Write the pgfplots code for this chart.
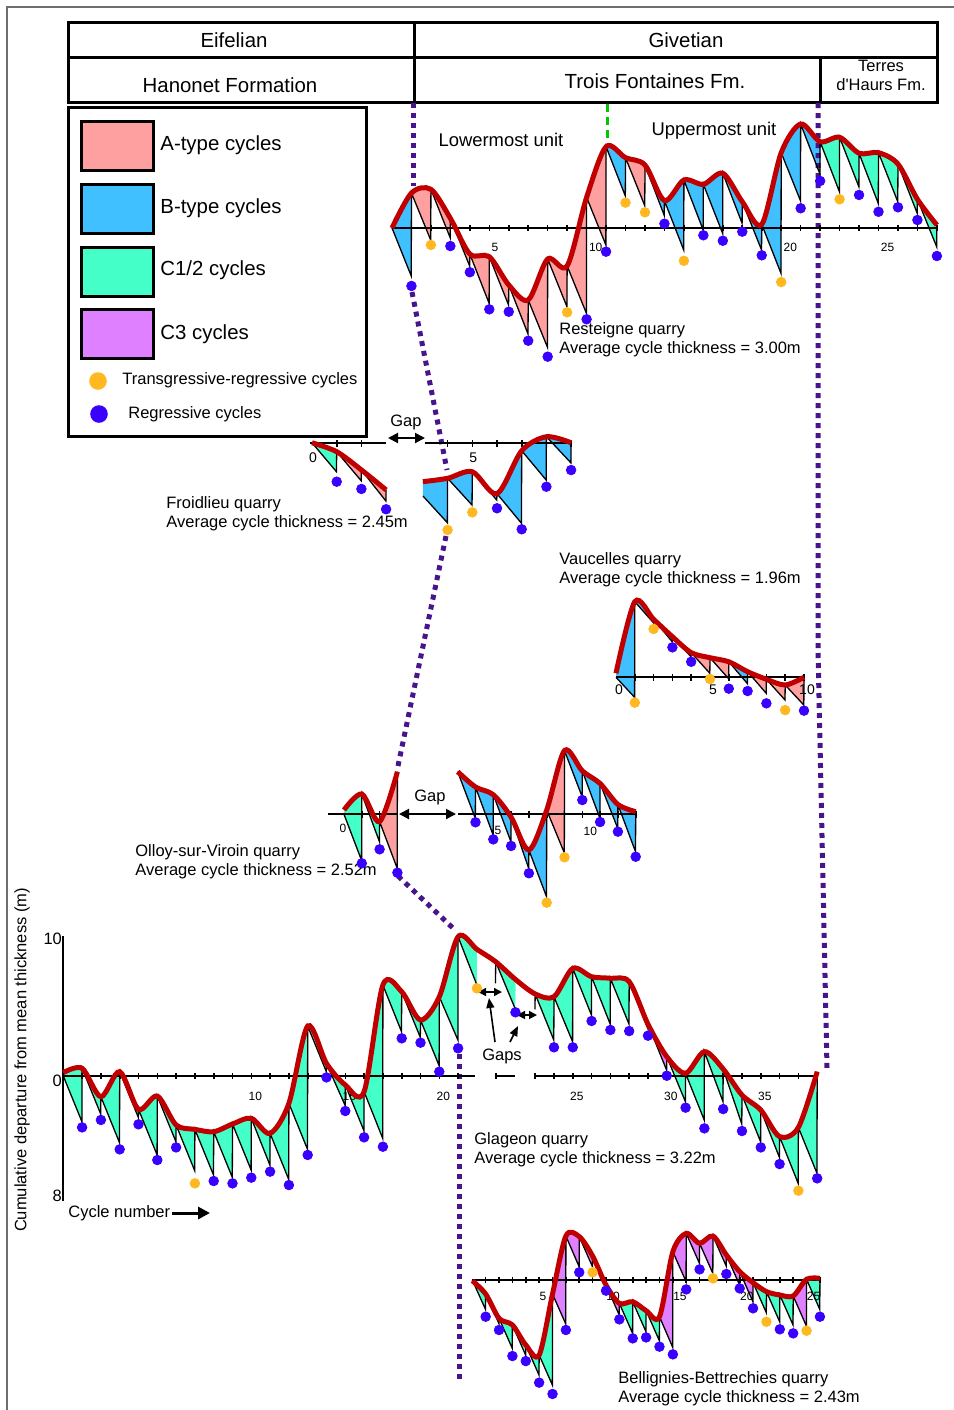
\documentclass[border=0pt]{standalone}
\usepackage{pgfplots}
\pgfplotsset{compat=1.18}
\usepgfplotslibrary{fillbetween}
\usetikzlibrary{arrows.meta}
\usepackage{fontspec}
\setmainfont{Liberation Sans}
\newfontfamily\plainf{Liberation Sans}

\definecolor{Acol}{RGB}{255,160,160}
\definecolor{Bcol}{RGB}{64,192,255}
\definecolor{Ccol}{RGB}{69,255,200}
\definecolor{Dcol}{RGB}{222,128,255}
\definecolor{rc}{RGB}{192,0,0}
\definecolor{tr}{RGB}{255,184,32}
\definecolor{rg}{RGB}{58,0,255}
\definecolor{corr}{RGB}{72,20,140}
\definecolor{dgreen}{RGB}{0,200,0}
\definecolor{framec}{RGB}{110,110,110}

\pgfplotsset{
  fpax/.style={hide axis, clip=false, anchor=origin, y=7pt, set layers},
  saw/.style={black, line width=0.65pt, no markers},
  rcurve/.style={color=rc, line width=2.5pt, smooth, no markers},
  dotB/.style={only marks, mark=*, mark size=2.4pt, mark options={fill=rg, draw=rg}},
  dotO/.style={only marks, mark=*, mark size=2.4pt, mark options={fill=tr, draw=tr}},
  fb/.style={draw=none, on layer=axis background, fill=#1},
}
\tikzset{
  axl/.style={black, line width=1pt},
  tkl/.style={black, line width=0.8pt},
  tl/.style={font=\fontsize{6}{6}\selectfont, inner sep=0pt},
  tl7/.style={font=\fontsize{7}{7}\selectfont, inner sep=0pt},
  corrline/.style={line width=2.5pt, draw=corr, dash pattern=on 2.5pt off 2.5pt},
  txt/.style={font=\fontsize{8.25}{9}\selectfont, inner sep=0pt},
  lbl/.style={font=\fontsize{9.2}{10}\selectfont, inner sep=0pt},
  hd/.style={font=\fontsize{10.2}{11}\selectfont, inner sep=0pt},
  dar/.style={line width=1pt, {Triangle[length=5pt,width=5pt]}-{Triangle[length=5pt,width=5pt]}},
  sar/.style={line width=0.8pt, {Triangle[length=4pt,width=4pt]}-{Triangle[length=4pt,width=4pt]}},
}

\begin{document}
\begin{tikzpicture}
\begin{scope}[x=0.5pt,y=-0.5pt]
% frame
\draw[framec, line width=0.6pt] (7,1410) -- (7,7) -- (954,7);
% header table
\draw[line width=1.5pt] (68,22) rectangle (937,102);
\draw[line width=1.5pt] (68,57) -- (937,57);
\draw[line width=1.5pt] (414,22) -- (414,102);
\draw[line width=1.5pt] (820,57) -- (820,102);
\node[hd] at (234,40) {Eifelian};
\node[hd] at (686,40) {Givetian};
\node[hd] at (230,85) {Hanonet Formation};
\node[hd] at (655,81) {Trois Fontaines Fm.};
\node[txt] at (881,66) {Terres};
\node[txt] at (881,85) {\plainf d'Haurs Fm.};
% legend
\draw[line width=1.5pt] (68,107) rectangle (366,436);
\draw[line width=1.5pt, fill=Acol] (81,121) rectangle (153,170);
\draw[line width=1.5pt, fill=Bcol] (81,184) rectangle (153,233);
\draw[line width=1.5pt, fill=Ccol] (81,247) rectangle (153,296);
\draw[line width=1.5pt, fill=Dcol] (81,309) rectangle (153,358);
\node[hd, anchor=west] at (160,145) {A-type cycles};
\node[hd, anchor=west] at (160,208) {B-type cycles};
\node[hd, anchor=west] at (160,270) {C1/2 cycles};
\node[hd, anchor=west] at (160,334) {C3 cycles};
\fill[tr] (98,381) circle (4.4pt);
\fill[rg] (99,414) circle (4.4pt);
\node[txt, anchor=west] at (122,380) {Transgressive-regressive cycles};
\node[txt, anchor=west] at (128,414) {Regressive cycles};
% correlation lines
\draw[corrline] (413,103) -- (413,186);
\draw[corrline] (412,292) -- (447,470);
\draw[corrline] (446,536) -- (398,766);
\draw[corrline] (398,876) -- (455,930);
\draw[corrline] (459,1054) -- (459,1382);
\draw[corrline] (818,103) -- (818,650) -- (827,1068);
\draw[dgreen, line width=1.5pt, dash pattern=on 4pt off 2.5pt] (607,104) -- (607,142);
% texts
\node[lbl] at (501,140) {Lowermost unit};
\node[lbl] at (714,131) {Uppermost unit};
\node[txt, anchor=west] at (559,330) {Resteigne quarry};
\node[txt, anchor=west] at (559,349) {Average cycle thickness = 3.00m};
\node[txt, anchor=west] at (166,504) {Froidlieu quarry};
\node[txt, anchor=west] at (166,523) {Average cycle thickness = 2.45m};
\node[txt, anchor=west] at (559,560) {Vaucelles quarry};
\node[txt, anchor=west] at (559,579) {Average cycle thickness = 1.96m};
\node[txt, anchor=west] at (135,852) {Olloy-sur-Viroin quarry};
\node[txt, anchor=west] at (135,871) {Average cycle thickness = 2.52m};
\node[txt, anchor=west] at (474,1140) {Glageon quarry};
\node[txt, anchor=west] at (474,1159) {Average cycle thickness = 3.22m};
\node[txt, anchor=west] at (618,1379) {Bellignies-Bettrechies quarry};
\node[txt, anchor=west] at (618,1398) {Average cycle thickness = 2.43m};
\node[txt] at (406,422) {Gap};
\draw[dar] (388,438) -- (425,438);
\node[txt] at (430,797) {Gap};
\draw[dar] (399,814) -- (456,814);
\draw[sar] (478,992) -- (502,992);
\draw[sar] (517,1015) -- (537,1015);
\draw[line width=0.8pt, -{Triangle[length=5pt,width=4pt]}] (495,1042) -- (489,998);
\draw[line width=0.8pt, -{Triangle[length=5pt,width=4pt]}] (510,1042) -- (518,1026);
\node[txt] at (502,1056) {Gaps};
\node[txt, anchor=west] at (68,1213) {Cycle number};
\draw[line width=1.5pt, -{Triangle[length=6pt,width=6pt]}] (172,1213) -- (210,1213);
\node[txt, rotate=90] at (22,1060) {Cumulative departure from mean thickness (m)};
\end{scope}

% ================= Resteigne
\begin{axis}[fpax, at={(0.5pt*392,-0.5pt*228)}, x=9.73pt, xmin=-0.5, xmax=28.5, ymin=-10, ymax=8]
\draw[axl] (axis cs:0,0) -- (axis cs:28,0);
\pgfplotsinvokeforeach{1,...,28}{\draw[tkl] (axis cs:#1,0) ++(0pt,1.7pt) -- ++(0pt,-3.4pt);}
\pgfplotsinvokeforeach{5,10,20,25}{\node[tl,anchor=north west,xshift=1pt,yshift=-7.5pt] at (axis cs:#1,0) {#1};}
\addplot[saw, name path=sR] coordinates {(0,0) (0.99,-3.43) (1,2.50) (1.99,-0.86) (2,2.76) (2.99,-0.69) (3,0.69) (3.99,-2.71) (4,-1.86) (4.99,-5.38) (5,-2.05) (5.99,-5.50) (6,-4.07) (6.99,-7.57) (7,-5.14) (7.99,-8.52) (8,-2.21) (8.99,-5.62) (9,-2.71) (9.99,-6.09) (10,2.19) (10.99,-1.21) (11,5.81) (11.99,2.29) (12,5.02) (12.99,1.59) (13,4.50) (13.99,0.90) (14,1.95) (14.99,-1.57) (15,3.43) (15.99,-0.14) (16,3.12) (16.99,-0.38) (17,3.91) (17.99,0.34) (18,1.88) (18.99,-1.57) (19,0.26) (19.99,-3.24) (20,5.38) (20.99,1.95) (21,7.43) (21.99,3.86) (22,6.16) (22.99,2.60) (23,6.48) (23.99,2.95) (24,5.34) (24.99,1.75) (25,5.38) (25.99,1.88) (26,4.57) (26.99,1.05) (27,2.05) (27.99,-1.34) (28,0.21)};
\addplot[rcurve, name path=cR] coordinates {(0,0) (1,2.50) (2,2.76) (3,0.69) (4,-1.86) (5,-2.05) (6,-4.07) (7,-5.14) (8,-2.21) (9,-2.71) (10,2.19) (11,5.81) (12,5.02) (13,4.50) (14,1.95) (15,3.43) (16,3.12) (17,3.91) (18,1.88) (19,0.26) (20,5.38) (21,7.43) (22,6.16) (23,6.48) (24,5.34) (25,5.38) (26,4.57) (27,2.05) (28,0.21)};
\addplot[fb=Bcol] fill between[of=cR and sR, soft clip={domain=-1:1}];
\addplot[fb=Acol] fill between[of=cR and sR, soft clip={domain=1:11}];
\addplot[fb=Bcol] fill between[of=cR and sR, soft clip={domain=11:12}];
\addplot[fb=Acol] fill between[of=cR and sR, soft clip={domain=12:13}];
\addplot[fb=Bcol] fill between[of=cR and sR, soft clip={domain=13:22}];
\addplot[fb=Ccol] fill between[of=cR and sR, soft clip={domain=22:29}];
\addplot[dotB] coordinates {(1,-4.14) (3,-1.29) (4,-3.16) (5,-5.81) (6,-5.98) (7,-8.05) (8,-9.19) (10,-6.52) (11,-1.69) (14,0.31) (16,-0.52) (17,-0.91) (18,-0.26) (19,-1.95) (21,1.41) (22,3.36) (24,2.36) (25,1.16) (26,1.48) (27,0.57) (28,-2.00)};
\addplot[dotO] coordinates {(2,-1.21) (9,-6.02) (12,1.81) (13,1.12) (15,-2.34) (20,-3.86) (23,2.05)};
\end{axis}

% ================= Froidlieu (left part)
\begin{axis}[fpax, at={(0.5pt*312,-0.5pt*443.3)}, x=12.35pt, xmin=-0.5, xmax=3.5, ymin=-5, ymax=1]
\draw[axl] (axis cs:-0.1,0) -- (axis cs:3,0);
\pgfplotsinvokeforeach{1,2}{\draw[tkl] (axis cs:#1,0) ++(0pt,1.7pt) -- ++(0pt,-3.4pt);}
\node[tl7,anchor=north,xshift=0.5pt,yshift=-4.5pt] at (axis cs:0,0) {0};
\addplot[saw, name path=sF1] coordinates {(0,0.04) (0.99,-2.03) (1,-0.60) (1.99,-2.67) (2,-1.90) (2.99,-4.12) (3,-3.33)};
\addplot[rcurve, name path=cF1] coordinates {(0,0.04) (1,-0.60) (2,-1.90) (3,-3.33)};
\addplot[fb=Ccol] fill between[of=cF1 and sF1, soft clip={domain=-1:1}];
\addplot[fb=Acol] fill between[of=cF1 and sF1, soft clip={domain=1:4}];
\addplot[dotB] coordinates {(1,-2.74) (2,-3.26) (3,-4.71)};
\end{axis}

% ================= Froidlieu (right part)
\begin{axis}[fpax, at={(0.5pt*348.8,-0.5pt*443.3)}, x=12.35pt, xmin=0, xmax=9.5, ymin=-7, ymax=1]
\draw[axl] (axis cs:3.07,0) -- (axis cs:9,0);
\pgfplotsinvokeforeach{4,...,9}{\draw[tkl] (axis cs:#1,0) ++(0pt,1.7pt) -- ++(0pt,-3.4pt);}
\node[tl7,anchor=north,xshift=0.5pt,yshift=-4.5pt] at (axis cs:5,0) {5};
\addplot[saw, name path=sF2] coordinates {(3,-3.76) (3.99,-5.67) (4,-2.50) (4.99,-4.41) (5,-2.03) (5.99,-4.05) (6,-3.60) (6.99,-5.71) (7,-0.53) (7.99,-2.62) (8,0.47) (8.99,-1.39) (9,0.04)};
\addplot[rcurve, name path=cF2] coordinates {(3,-2.74) (4,-2.50) (5,-2.03) (6,-3.60) (7,-0.53) (8,0.47) (9,0.04)};
\addplot[fb=Bcol] fill between[of=cF2 and sF2, soft clip={domain=2:10}];
\addplot[dotB] coordinates {(6,-4.64) (7,-6.14) (8,-3.10) (9,-1.91)};
\addplot[dotO] coordinates {(4,-6.19) (5,-4.93)};
\end{axis}

% ================= Vaucelles
\begin{axis}[fpax, at={(0.5pt*616,-0.5pt*677.3)}, x=9.4pt, xmin=-0.5, xmax=10.5, ymin=-3, ymax=6]
\draw[axl] (axis cs:0,0) -- (axis cs:10,0);
\pgfplotsinvokeforeach{1,...,10}{\draw[tkl] (axis cs:#1,0) ++(0pt,1.7pt) -- ++(0pt,-3.4pt);}
\pgfplotsinvokeforeach{0,5,10}{\node[tl7,anchor=north,xshift=1.5pt,yshift=-3.5pt] at (axis cs:#1,0) {#1};}
\addplot[saw, name path=sV] coordinates {(0,0) (0.99,-1.43) (1,5.40) (1.99,3.90) (2,4.14) (2.99,2.54) (3,2.90) (3.99,1.47) (4,1.76) (4.99,0.29) (5,1.40) (5.99,-0.10) (6,1.11) (6.99,-0.45) (7,0.40) (7.99,-1.14) (8,-0.14) (8.99,-1.62) (9,-0.55) (9.99,-1.98) (10,0)};
\addplot[rcurve, name path=cV] coordinates {(0,0.29) (1,5.40) (2,4.14) (3,2.90) (4,1.76) (5,1.40) (6,1.11) (7,0.40) (8,-0.14) (9,-0.55) (10,0)};
\addplot[fb=Bcol] fill between[of=cV and sV, soft clip={domain=-1:4}];
\addplot[fb=Acol] fill between[of=cV and sV, soft clip={domain=4:6}];
\addplot[fb=Bcol] fill between[of=cV and sV, soft clip={domain=6:7}];
\addplot[fb=Acol] fill between[of=cV and sV, soft clip={domain=7:11}];
\addplot[dotB] coordinates {(3,2.14) (4,1.11) (6,-0.81) (7,-0.98) (8,-1.86) (10,-2.38)};
\addplot[dotO] coordinates {(1,-1.81) (2,3.45) (5,-0.12) (9,-2.34)};
\end{axis}

% ================= Olloy (left part)
\begin{axis}[fpax, at={(0.5pt*344,-0.5pt*814.3)}, x=8.9pt, xmin=-1, xmax=3.5, ymin=-5, ymax=4]
\draw[axl] (axis cs:-0.88,0) -- (axis cs:3,0);
\pgfplotsinvokeforeach{1,2}{\draw[tkl] (axis cs:#1,0) ++(0pt,1.7pt) -- ++(0pt,-3.4pt);}
\node[tl,anchor=north,xshift=-0.5pt,yshift=-4.5pt] at (axis cs:0,0) {0};
\addplot[saw, name path=sO1] coordinates {(0,0) (0.99,-3.30) (1,1.45) (1.99,-1.95) (2,-0.52) (2.99,-3.86) (3,3.04)};
\addplot[rcurve, name path=cO1] coordinates {(0,0.31) (1,1.45) (2,-0.52) (3,3.04)};
\addplot[fb=Ccol] fill between[of=cO1 and sO1, soft clip={domain=-1:2}];
\addplot[fb=Acol] fill between[of=cO1 and sO1, soft clip={domain=2:4}];
\addplot[dotB] coordinates {(1,-3.50) (2,-2.50) (3,-4.17)};
\end{axis}

% ================= Olloy (right part)
\begin{axis}[fpax, at={(0.5pt*404.3,-0.5pt*814.3)}, x=8.9pt, xmin=0, xmax=13.5, ymin=-7, ymax=5]
\draw[axl] (axis cs:3,0) -- (axis cs:13,0);
\pgfplotsinvokeforeach{4,...,13}{\draw[tkl] (axis cs:#1,0) ++(0pt,1.7pt) -- ++(0pt,-3.4pt);}
\pgfplotsinvokeforeach{5,10}{\node[tl,anchor=north west,xshift=0.5pt,yshift=-6pt] at (axis cs:#1,0) {#1};}
\addplot[saw, name path=sO2] coordinates {(3,3.04) (3.99,-0.29) (4,1.95) (4.99,-1.48) (5,1.40) (5.99,-1.95) (6,-0.20) (6.99,-3.86) (7,-2.55) (7.99,-5.88) (8,0.30) (8.99,-2.75) (9,4.55) (9.99,1.26) (10,3.10) (10.99,-0.29) (11,2.20) (11.99,-1.00) (12,0.70) (12.99,-2.67) (13,0.19)};
\addplot[rcurve, name path=cO2] coordinates {(3,3.04) (4,1.95) (5,1.40) (6,-0.20) (7,-2.55) (8,0.30) (9,4.55) (10,3.10) (11,2.20) (12,0.70) (13,0.19)};
\addplot[fb=Bcol] fill between[of=cO2 and sO2, soft clip={domain=2:8}];
\addplot[fb=Acol] fill between[of=cO2 and sO2, soft clip={domain=8:9}];
\addplot[fb=Bcol] fill between[of=cO2 and sO2, soft clip={domain=9:14}];
\addplot[dotB] coordinates {(4,-0.57) (5,-1.79) (6,-2.26) (7,-4.21) (10,1.02) (11,-0.55) (12,-1.24) (13,-3.03)};
\addplot[dotO] coordinates {(8,-6.31) (9,-3.07)};
\end{axis}

% ================= Glageon
\begin{axis}[fpax, at={(0.5pt*63.3,-0.5pt*1076)}, x=9.4pt, xmin=-0.5, xmax=40.5, ymin=-9.5, ymax=10.5]
\draw[axl] (axis cs:0,10) -- (axis cs:0,-8.9);
\node[txt,anchor=east,xshift=-0.5pt] at (axis cs:0,9.8) {10};
\node[txt,anchor=east,xshift=-0.5pt] at (axis cs:0,-0.35) {0};
\node[txt,anchor=east,xshift=-0.5pt] at (axis cs:0,-8.57) {8};
\draw[axl] (axis cs:0,0) -- (axis cs:21.9,0);
\draw[axl] (axis cs:22.96,0) -- (axis cs:24.05,0);
\draw[axl] (axis cs:25.1,0) -- (axis cs:40.1,0);
\pgfplotsinvokeforeach{1,...,21,23,25.1,26.1,27.1,28.1,29.1,30.1,31.1,32.1,33.1,34.1,35.1,36.1,37.1,38.1,39.1,40.1}{\draw[tkl] (axis cs:#1,0) ++(0pt,1.7pt) -- ++(0pt,-3.4pt);}
\node[tl,anchor=north,xshift=2pt,yshift=-8pt] at (axis cs:10,0) {10};
\node[tl,anchor=north,xshift=2pt,yshift=-8pt] at (axis cs:15,0) {15};
\node[tl,anchor=north,xshift=2pt,yshift=-8pt] at (axis cs:20,0) {20};
\node[tl,anchor=north,xshift=2pt,yshift=-8pt] at (axis cs:27.1,0) {25};
\node[tl,anchor=north,xshift=2pt,yshift=-8pt] at (axis cs:32.1,0) {30};
\node[tl,anchor=north,xshift=2pt,yshift=-8pt] at (axis cs:37.1,0) {35};
\addplot[saw, name path=sGa] coordinates {(0,0) (0.99,-3.26) (1,0.55) (1.99,-2.71) (2,-1.48) (2.99,-4.76) (3,0.31) (3.99,-2.95) (4,-2.38) (4.99,-5.64) (5,-1.43) (5.99,-4.69) (6,-3.50) (6.99,-6.76) (7,-3.81) (7.99,-7.07) (8,-3.98) (8.99,-7.24) (9,-3.43) (9.99,-6.71) (10,-3.02) (10.99,-6.36) (11,-4.10) (11.99,-7.38) (12,-1.95) (12.99,-5.24) (13,3.57) (13.99,0.31) (14,0.90) (14.99,-2.10) (15,-0.64) (15.99,-3.90) (16,-1.12) (16.99,-4.45) (17,6.50) (17.99,3.17) (18,6.02) (18.99,2.76) (19,4.00) (19.99,0.74) (20,5.66) (20.99,2.57) (21,9.95) (22,6.50)};
\addplot[saw, name path=sGb] coordinates {(22.99,6.62) (23,8.16) (24.05,4.76)};
\addplot[saw, name path=sGc] coordinates {(25.09,4.76) (25.1,5.86) (26.09,2.57) (26.1,5.66) (27.09,2.45) (27.1,7.69) (28.09,4.36) (28.1,7.09) (29.09,3.71) (29.1,6.98) (30.09,3.71) (30.1,6.74) (31.09,3.40) (31.1,3.70) (32.09,0.43) (32.1,1.38) (33.09,-1.83) (33.1,0.19) (34.09,-3.14) (34.1,1.74) (35.09,-1.83) (35.1,0.50) (36.09,-3.43) (36.1,-1.36) (37.09,-4.69) (37.1,-2.43) (38.09,-5.81) (38.1,-4.33) (39.09,-7.67) (39.1,-3.67) (40.09,-6.95) (40.1,0.31)};
\addplot[rcurve, name path=cG] coordinates {(0,0.24) (1,0.55) (2,-1.48) (3,0.31) (4,-2.38) (5,-1.43) (6,-3.50) (7,-3.81) (8,-3.98) (9,-3.43) (10,-3.02) (11,-4.10) (12,-1.95) (13,3.57) (14,0.90) (15,-0.64) (16,-1.12) (17,6.50) (18,6.02) (19,4.00) (20,5.66) (21,9.95) (22,9.05) (23,8.16) (24.05,6.90) (25.1,5.86) (26.1,5.66) (27.1,7.69) (28.1,7.09) (29.1,6.98) (30.1,6.74) (31.1,3.70) (32.1,1.38) (33.1,0.19) (34.1,1.74) (35.1,0.50) (36.1,-1.36) (37.1,-2.43) (38.1,-4.33) (39.1,-3.67) (40.1,0.31)};
\addplot[fb=Ccol] fill between[of=cG and sGa, soft clip={domain=-1:22.005}];
\addplot[fb=Ccol] fill between[of=cG and sGb, soft clip={domain=23:24.055}];
\addplot[fb=Ccol] fill between[of=cG and sGc, soft clip={domain=25.1:31.1}];
\addplot[fb=Dcol] fill between[of=cG and sGc, soft clip={domain=31.1:32.1}];
\addplot[fb=Ccol] fill between[of=cG and sGc, soft clip={domain=32.1:41}];
\addplot[dotB] coordinates {(1,-3.67) (2,-3.14) (3,-5.24) (4,-3.45) (5,-6.00) (6,-5.10) (8,-7.50) (9,-7.67) (10,-7.26) (11,-6.83) (12,-7.79) (13,-5.64) (14,-0.10) (15,-2.50) (16,-4.38) (17,-5.05) (18,2.69) (19,2.38) (20,0.31) (21,1.98) (24.05,4.55) (26.1,2.05) (27.1,2.05) (28.1,3.93) (29.1,3.29) (30.1,3.21) (31.1,2.88) (32.1,0.02) (33.1,-2.26) (34.1,-3.74) (35.1,-2.36) (36.1,-3.93) (37.1,-5.10) (38.1,-6.29) (40.1,-7.31)};
\addplot[dotO] coordinates {(7,-7.67) (22,6.26) (39.1,-8.19)};
\end{axis}

% ================= Bellignies-Bettrechies
\begin{axis}[fpax, at={(0.5pt*472.3,-0.5pt*1280)}, x=6.685pt, xmin=-0.5, xmax=26.5, ymin=-9, ymax=4]
\draw[axl] (axis cs:0,0) -- (axis cs:26,0);
\pgfplotsinvokeforeach{1,...,26}{\draw[tkl] (axis cs:#1,0) ++(0pt,1.7pt) -- ++(0pt,-3.4pt);}
\pgfplotsinvokeforeach{5,10,15,20,25}{\node[tl,anchor=north west,xshift=0pt,yshift=-6pt] at (axis cs:#1,0) {#1};}
\addplot[saw, name path=sBe] coordinates {(0,0) (0.99,-2.10) (1,-1.00) (1.99,-3.10) (2,-2.74) (2.99,-4.88) (3,-3.21) (3.99,-5.36) (4,-4.64) (4.99,-6.79) (5,-5.36) (5.99,-7.50) (6,-1.00) (6.99,-3.14) (7,3.14) (7.99,0.95) (8,3.10) (8.99,0.95) (9,1.71) (9.99,-0.43) (10,-0.36) (10.99,-2.50) (11,-1.67) (11.99,-3.81) (12,-1.55) (12.99,-3.69) (13,-2.19) (13.99,-4.33) (14,-2.62) (14.99,-4.81) (15,2.02) (15.99,-0.12) (16,3.33) (16.99,1.19) (17,2.62) (17.99,0.48) (18,3.14) (18.99,1.00) (19,1.79) (19.99,-0.36) (20,0.60) (20.99,-1.55) (21,-0.19) (21.99,-2.33) (22,-0.83) (22.99,-2.98) (23,-1.07) (23.99,-3.21) (24,-1.14) (24.99,-3.29) (25,0.05) (25.99,-2.10) (26,0.12)};
\addplot[rcurve, name path=cBe] coordinates {(0,-0.05) (1,-1.00) (2,-2.74) (3,-3.21) (4,-4.64) (5,-5.36) (6,-1.00) (7,3.14) (8,3.10) (9,1.71) (10,-0.36) (11,-1.67) (12,-1.55) (13,-2.19) (14,-2.62) (15,2.02) (16,3.33) (17,2.62) (18,3.14) (19,1.79) (20,0.60) (21,-0.19) (22,-0.83) (23,-1.07) (24,-1.14) (25,0.05) (26,0.12)};
\addplot[fb=Ccol] fill between[of=cBe and sBe, soft clip={domain=-1:6}];
\addplot[fb=Dcol] fill between[of=cBe and sBe, soft clip={domain=6:11}];
\addplot[fb=Ccol] fill between[of=cBe and sBe, soft clip={domain=11:14}];
\addplot[fb=Dcol] fill between[of=cBe and sBe, soft clip={domain=14:21}];
\addplot[fb=Ccol] fill between[of=cBe and sBe, soft clip={domain=21:24}];
\addplot[fb=Dcol] fill between[of=cBe and sBe, soft clip={domain=24:25}];
\addplot[fb=Ccol] fill between[of=cBe and sBe, soft clip={domain=25:27}];
\addplot[dotB] coordinates {(1,-2.62) (2,-3.57) (3,-5.43) (4,-5.79) (5,-7.33) (6,-8.14) (7,-3.57) (8,0.55) (10,-0.76) (11,-2.81) (12,-4.17) (13,-4.10) (14,-4.76) (15,-5.31) (16,-0.67) (17,0.76) (19,0.43) (20,-0.60) (21,-2.02) (23,-3.52) (24,-3.81) (26,-2.62)};
\addplot[dotO] coordinates {(9,0.55) (18,0.12) (22,-2.98) (25,-3.62)};
\end{axis}
\pgfresetboundingbox
\useasboundingbox (0pt,0pt) rectangle (477pt,-705pt);
\end{tikzpicture}
\end{document}
